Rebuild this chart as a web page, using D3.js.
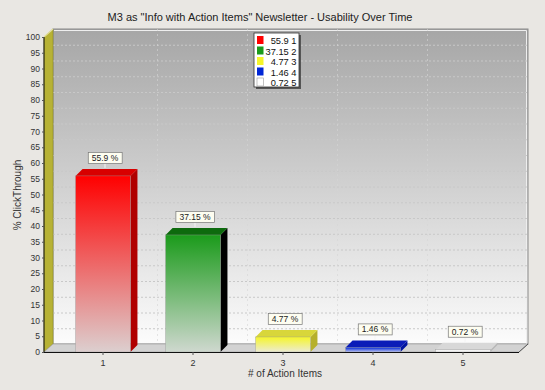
<!DOCTYPE html>
<html><head><meta charset="utf-8">
<script src="https://cdn.jsdelivr.net/npm/d3@7"></script>
<style>body{margin:0;background:#e9e7e3;}svg{display:block;font-family:Arial,"Liberation Sans",sans-serif;}</style>
</head><body><svg id="c" width="545" height="390"></svg>
<script>
const categories = ["1","2","3","4","5"];
const values = [55.9, 37.15, 4.77, 1.46, 0.72];
const yTickValues = [0,5,10,15,20,25,30,35,40,45,50,55,60,65,70,75,80,85,90,95,100];
const frontTop = ["#ff0000","#1b9b1b","#f5f52a","#0026d6","#f2f2f2"];
const frontBottom = ["#dccfcf","#cfd8cf","#ecebd2","#b9c2f2","#f7f7f7"];
const sideColors = ["#b00000","#000000","#b6b02c","#0014a0","#b8b8b8"];
const topColors = ["#d80000","#0d6a0d","#d8d63a","#0a1cb8","#d8d8d8"];
const title = 'M3 as "Info with Action Items" Newsletter - Usability Over Time';
const yTitle = "% ClickThrough";
const xTitle = "# of Action Items";

const svg = d3.select("#c");
const defs = svg.append("defs");
const x = d3.scaleBand().domain(categories).range([58,508]).paddingInner(0.39).paddingOuter(0.195);
const y = d3.scaleLinear().domain([0,100]).range([352,37]);
const DX = 9, DY = 8, BD = 7;
const x0 = 44, x1 = 519;

// title
svg.append("text").attr("x",260).attr("y",21).attr("text-anchor","middle")
  .attr("font-size",11).attr("fill","#222").text(title);

// back wall
const wg = defs.append("linearGradient").attr("id","wall").attr("x1",0).attr("y1",0).attr("x2",0).attr("y2",1);
wg.append("stop").attr("offset","0%").attr("stop-color","#a6a6a6");
wg.append("stop").attr("offset","100%").attr("stop-color","#fcfcfc");
svg.append("rect").attr("x",x0+DX).attr("y",y(100)-DY).attr("width",x1-x0).attr("height",y(0)-y(100))
  .attr("fill","url(#wall)").attr("stroke","#8a8a8a").attr("stroke-width",1);
svg.append("path").attr("d",`M${x0+DX+1},${y(100)-DY+1.5}H${x1+DX-1.5}V${y(0)-DY}`)
  .attr("fill","none").attr("stroke","#eeeeee").attr("stroke-width",1);

// gridlines on back wall
svg.append("g").selectAll("line").data(yTickValues.filter(v=>v>0&&v<100)).join("line")
  .attr("x1",x0+DX).attr("x2",x1+DX).attr("y1",d=>y(d)-DY+0.5).attr("y2",d=>y(d)-DY+0.5)
  .attr("stroke","#c8c8c8").attr("stroke-dasharray","2,2").attr("stroke-width",1);
const bounds = categories.slice(1).map(c=>x(c)-x.step()*x.paddingInner()/2);
svg.append("g").selectAll("line").data(bounds).join("line")
  .attr("x1",d=>d+DX+0.5).attr("x2",d=>d+DX+0.5).attr("y1",y(100)-DY).attr("y2",y(0)-DY)
  .attr("stroke","#d6d6d6").attr("stroke-opacity",0.6).attr("stroke-dasharray","2,3");

// left wall
svg.append("path").attr("d",`M${x0},${y(0)}L${x0},${y(100)}L${x0+DX},${y(100)-DY}L${x0+DX},${y(0)-DY}Z`)
  .attr("fill","#b7b235").attr("stroke","#8d8a22").attr("stroke-width",0.6);
svg.append("path").attr("d",`M${x0},${y(100)}L${x0+DX},${y(100)-DY}`).attr("stroke","#e2df9a").attr("stroke-width",1.2);

// floor
svg.append("path").attr("d",`M${x0},${y(0)}L${x1},${y(0)}L${x1+DX},${y(0)-DY}L${x0+DX},${y(0)-DY}Z`)
  .attr("fill","#d2d2d2").attr("stroke","#9a9a9a").attr("stroke-width",0.6);

// bars
categories.forEach((c,i)=>{
  const g = defs.append("linearGradient").attr("id","bg"+i).attr("x1",0).attr("y1",0).attr("x2",0).attr("y2",1);
  g.append("stop").attr("offset","0%").attr("stop-color",frontTop[i]);
  g.append("stop").attr("offset","100%").attr("stop-color",frontBottom[i]);
});
const bars = svg.append("g").selectAll("g").data(values).join("g");
bars.append("path").attr("d",(d,i)=>{const l=x(categories[i]),r=l+x.bandwidth(),t=y(d),b=y(0);
  return `M${r},${b}L${r},${t}L${r+BD},${t-BD}L${r+BD},${b-BD}Z`;}).attr("fill",(d,i)=>sideColors[i]);
bars.append("path").attr("d",(d,i)=>{const l=x(categories[i]),r=l+x.bandwidth(),t=y(d);
  return `M${l},${t}L${l+BD},${t-BD}L${r+BD},${t-BD}L${r},${t}Z`;}).attr("fill",(d,i)=>topColors[i]);
bars.append("rect").attr("x",(d,i)=>x(categories[i])).attr("y",d=>y(d)).attr("width",x.bandwidth())
  .attr("height",d=>y(0)-y(d)).attr("fill",(d,i)=>`url(#bg${i})`).attr("stroke","#9a9a9a").attr("stroke-width",0.4);

// value labels
const lab = svg.append("g").selectAll("g").data(values).join("g")
  .attr("transform",(d,i)=>`translate(${x(categories[i])+x.bandwidth()/2+2},${y(d)-BD-11})`);
lab.append("line").attr("x1",0).attr("x2",0).attr("y1",0).attr("y2",10).attr("stroke","#f4f4f4").attr("stroke-width",1);
lab.append("text").attr("text-anchor","middle").attr("y",3).attr("font-size",8.5).attr("fill","#222")
  .text(d=>d+" %");
lab.each(function(){const g=d3.select(this);const bb=g.select("text").node().getBBox();
  g.insert("rect","text").attr("x",bb.x-3.5).attr("y",-5.5).attr("width",bb.width+7).attr("height",11)
   .attr("fill","#fdfdf0").attr("stroke","#777").attr("stroke-width",0.7);});

// y axis
svg.append("line").attr("x1",x0).attr("x2",x0).attr("y1",y(100)).attr("y2",y(0)+1).attr("stroke","#111");
svg.append("g").selectAll("text").data(yTickValues).join("text")
  .attr("x",40).attr("y",d=>y(d)+3).attr("text-anchor","end").attr("font-size",8.5).attr("fill","#333").text(d=>d);
svg.append("g").selectAll("line").data(yTickValues).join("line")
  .attr("x1",x0-2).attr("x2",x0).attr("y1",d=>y(d)+0.5).attr("y2",d=>y(d)+0.5).attr("stroke","#555");
svg.append("text").attr("transform","translate(21,195) rotate(-90)").attr("text-anchor","middle")
  .attr("font-size",10).attr("fill","#333").text(yTitle);

// x axis
svg.append("line").attr("x1",x0).attr("x2",x1).attr("y1",y(0)+0.5).attr("y2",y(0)+0.5).attr("stroke","#111");
svg.append("path").attr("d",`M${x1},${y(0)}L${x1+DX},${y(0)-DY}`).attr("stroke","#555");
svg.append("g").selectAll("text").data(categories).join("text")
  .attr("x",c=>x(c)+x.bandwidth()/2).attr("y",366).attr("text-anchor","middle").attr("font-size",9).attr("fill","#333").text(c=>c);
svg.append("g").selectAll("line").data(categories).join("line")
  .attr("x1",c=>x(c)+x.bandwidth()/2).attr("x2",c=>x(c)+x.bandwidth()/2).attr("y1",y(0)).attr("y2",y(0)+3).attr("stroke","#555");
svg.append("text").attr("x",285).attr("y",377).attr("text-anchor","middle")
  .attr("font-size",10).attr("fill","#333").text(xTitle);

// legend
const lg = svg.append("g").attr("transform","translate(254,33)");
lg.append("rect").attr("x",2).attr("y",2).attr("width",45).attr("height",54).attr("fill","#555");
lg.append("rect").attr("x",0).attr("y",0).attr("width",45).attr("height",54).attr("fill","#fff").attr("stroke","#333").attr("stroke-width",0.8);
const rows = lg.selectAll("g").data(values).join("g").attr("transform",(d,i)=>`translate(0,${3+i*10.5})`);
rows.append("rect").attr("x",3).attr("y",0).attr("width",6.5).attr("height",8).attr("fill",(d,i)=>i===4?"#fff":frontTop[i])
  .attr("stroke",(d,i)=>i===4?"#999":"none").attr("stroke-width",0.6);
rows.append("text").attr("x",42.5).attr("y",8).attr("text-anchor","end").attr("font-size",9.3).attr("fill","#111")
  .text((d,i)=>d+" "+categories[i]);
</script></body></html>
